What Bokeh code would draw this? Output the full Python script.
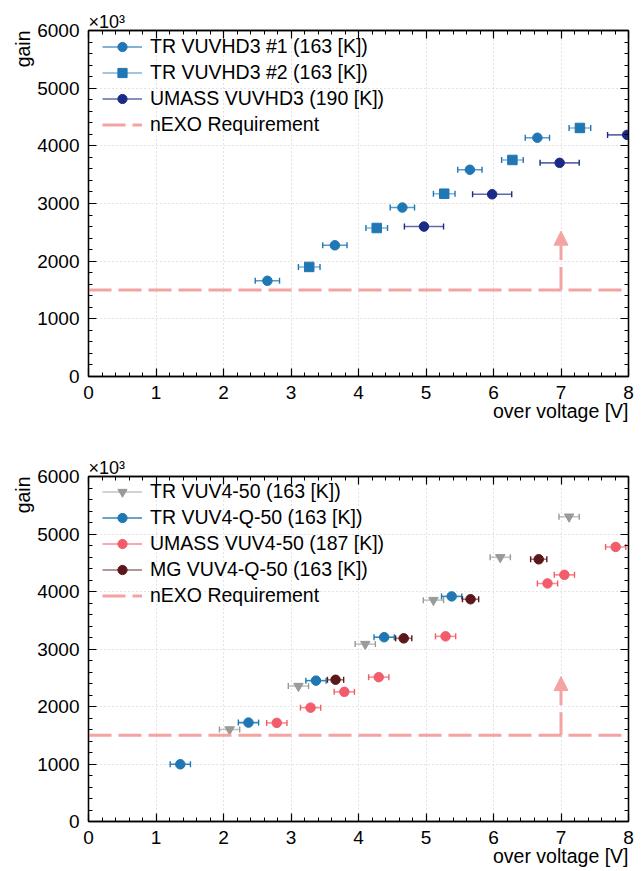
import numpy as np
from bokeh.plotting import figure
from bokeh.layouts import column
from bokeh.models import (Range1d, LinearAxis, Legend, LegendItem, Arrow,
                          NormalHead, SingleIntervalTicker, Title)
from bokeh.embed import file_html
from bokeh.resources import INLINE

FONT = "Liberation Sans"

# ---------------- data ----------------
x_limits = [0, 8]
y_limits = [0, 6000]
x_major = 1
y_major = 1000
x_axis_title = "over voltage [V]"
y_axis_title = "gain"
scale_note = "×10³"

requirement_label = "nEXO Requirement"
requirement_gain = 1500
arrow_voltage = 7
arrow_gain_top = 2520

# top panel
tr1_label = "TR VUVHD3 #1 (163 [K])"
tr1_v = [2.65, 3.65, 4.65, 5.65, 6.65]
tr1_gain = [1660, 2275, 2930, 3585, 4140]
tr1_verr = 0.18

tr2_label = "TR VUVHD3 #2 (163 [K])"
tr2_v = [3.27, 4.27, 5.27, 6.28, 7.28]
tr2_gain = [1900, 2575, 3170, 3755, 4310]
tr2_verr = 0.16

um1_label = "UMASS VUVHD3 (190 [K])"
um1_v = [4.97, 5.98, 6.98, 7.98]
um1_gain = [2600, 3160, 3705, 4190]
um1_verr = 0.29

# bottom panel
trv_label = "TR VUV4-50 (163 [K])"
trv_v = [2.09, 3.11, 4.10, 5.11, 6.10, 7.12]
trv_gain = [1600, 2355, 3085, 3850, 4595, 5300]
trv_verr = 0.15

trq_label = "TR VUV4-Q-50 (163 [K])"
trq_v = [1.36, 2.37, 3.37, 4.38, 5.38]
trq_gain = [995, 1720, 2450, 3205, 3915]
trq_verr = 0.15

umv_label = "UMASS VUV4-50 (187 [K])"
umv_v = [2.79, 3.29, 3.79, 4.30, 5.29, 6.80, 7.05, 7.81]
umv_gain = [1715, 1980, 2255, 2510, 3220, 4140, 4290, 4775]
umv_verr = 0.15

mgq_label = "MG VUV4-Q-50 (163 [K])"
mgq_v = [3.66, 4.67, 5.66, 6.67]
mgq_gain = [2465, 3185, 3865, 4560]
mgq_verr = 0.12

# ---------------- styles ----------------
BLUE = "#1f77b4"
NAVY = "#1b2a87"
GRAY = "#9a9a9a"
RED = "#f25c6b"
MAROON = "#5b1719"
REQ = "#f4a3a3"


def style_axis(ax, labels=True):
    ax.axis_line_color = "black"
    ax.axis_line_width = 1.3
    ax.major_tick_line_color = "black"
    ax.minor_tick_line_color = "black"
    ax.major_tick_line_width = 1.2
    ax.minor_tick_line_width = 1.0
    ax.major_tick_in = 8
    ax.major_tick_out = 0
    ax.minor_tick_in = 4
    ax.minor_tick_out = 0
    if labels:
        ax.major_label_text_font = FONT
        ax.major_label_text_font_size = "19px"
        ax.major_label_text_color = "black"
        ax.major_label_standoff = 9
    else:
        ax.major_label_text_font_size = "1px"
        ax.major_label_text_color = None
        ax.major_label_standoff = 0


def make_title(text, align, size, standoff):
    t = Title(text=text, align=align, text_font=FONT, text_font_size=size,
              text_font_style="normal", text_color="black", standoff=standoff)
    return t


def make_fig(frame_h, top_b, bottom_b):
    p = figure(frame_width=540, frame_height=frame_h,
               min_border_left=88, min_border_right=16,
               min_border_top=top_b, min_border_bottom=bottom_b,
               x_range=Range1d(*x_limits), y_range=Range1d(*y_limits),
               output_backend="svg", toolbar_location=None)
    p.title = make_title(scale_note, "left", "18px", -2)
    p.add_layout(make_title(x_axis_title, "right", "19.5px", -8), "below")
    p.add_layout(make_title(y_axis_title, "right", "19.5px", 2), "left")
    p.background_fill_color = "white"
    p.border_fill_color = "white"
    p.outline_line_color = "black"
    p.outline_line_width = 1.3
    p.xaxis.ticker = SingleIntervalTicker(interval=x_major, num_minor_ticks=5)
    p.yaxis.ticker = SingleIntervalTicker(interval=y_major, num_minor_ticks=5)
    style_axis(p.xaxis[0])
    style_axis(p.yaxis[0])
    right = LinearAxis(ticker=SingleIntervalTicker(interval=y_major, num_minor_ticks=5))
    top = LinearAxis(ticker=SingleIntervalTicker(interval=x_major, num_minor_ticks=5))
    style_axis(right, labels=False)
    style_axis(top, labels=False)
    p.add_layout(right, "right")
    p.add_layout(top, "above")
    for g in (p.xgrid[0], p.ygrid[0]):
        g.grid_line_color = "#c8c8c8"
        g.grid_line_dash = "1 3"
        g.grid_line_width = 1
    return p


def add_series(p, xs, ys, xerr, color, marker, bar_alpha, label):
    xs = np.array(xs, dtype=float)
    ys = np.array(ys, dtype=float)
    seg = p.segment(x0=xs - xerr, y0=ys, x1=xs + xerr, y1=ys,
                    line_color=color, line_alpha=bar_alpha, line_width=1.6)
    p.scatter(x=np.concatenate([xs - xerr, xs + xerr]), y=np.concatenate([ys, ys]),
              marker="dash", angle=np.pi / 2, size=6, line_color=color, line_width=1.4)
    pts = p.scatter(xs, ys, marker=marker, size=9.5, fill_color=color, line_color=color)
    return LegendItem(label=label, renderers=[seg, pts])


def add_requirement(p):
    r = p.line(x=x_limits, y=[requirement_gain, requirement_gain], line_color=REQ,
               line_width=3, line_dash="23 7")
    p.add_layout(Arrow(end=NormalHead(size=14, fill_color=REQ, line_color=REQ),
                       x_start=arrow_voltage, y_start=requirement_gain,
                       x_end=arrow_voltage, y_end=arrow_gain_top,
                       line_color=REQ, line_width=3, line_dash="23 7"))
    return LegendItem(label=requirement_label, renderers=[r])


def add_legend(p, items, y_pos):
    lg = Legend(items=items, location=(14, y_pos))
    lg.label_text_font = FONT
    lg.label_text_font_size = "19.5px"
    lg.label_text_color = "black"
    lg.glyph_width = 40
    lg.glyph_height = 23
    lg.label_height = 23
    lg.label_standoff = 8
    lg.spacing = 3
    lg.padding = 0
    lg.margin = 0
    lg.background_fill_alpha = 0
    lg.border_line_color = None
    p.add_layout(lg)


# ---------------- top panel ----------------
p1 = make_fig(346, 30, 60)
items1 = [
    add_series(p1, tr1_v, tr1_gain, tr1_verr, BLUE, "circle", 0.75, tr1_label),
    add_series(p1, tr2_v, tr2_gain, tr2_verr, BLUE, "square", 0.55, tr2_label),
    add_series(p1, um1_v, um1_gain, um1_verr, NAVY, "circle", 0.7, um1_label),
    add_requirement(p1),
]
add_legend(p1, items1, 240)

# ---------------- bottom panel ----------------
p2 = make_fig(345, 40, 50)
items2 = [
    add_series(p2, trv_v, trv_gain, trv_verr, GRAY, "inverted_triangle", 0.6, trv_label),
    add_series(p2, trq_v, trq_gain, trq_verr, BLUE, "circle", 0.9, trq_label),
    add_series(p2, umv_v, umv_gain, umv_verr, RED, "circle", 0.7, umv_label),
    add_series(p2, mgq_v, mgq_gain, mgq_verr, MAROON, "circle", 0.6, mgq_label),
    add_requirement(p2),
]
add_legend(p2, items2, 214)

layout = column(p1, p2, spacing=0)
open("out.html", "w").write(file_html(layout, INLINE))
